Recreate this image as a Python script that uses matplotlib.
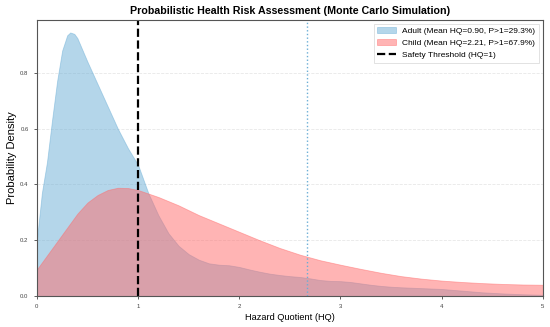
import numpy as np
import matplotlib
matplotlib.use("Agg")
import matplotlib.pyplot as plt

plt.rcParams['font.family'] = ['Liberation Sans', 'DejaVu Sans']

# KDE values
adult_x = [0.0, 0.05, 0.1, 0.15, 0.2, 0.25, 0.3, 0.33, 0.37, 0.4, 0.5, 0.6, 0.7, 0.8, 0.9,
           1.0, 1.1, 1.2, 1.3, 1.4, 1.5, 1.6, 1.7, 1.8, 1.9, 2.0, 2.1, 2.2, 2.3, 2.4, 2.5,
           2.6, 2.7, 2.8, 2.9, 3.0, 3.1, 3.2, 3.3, 3.4, 3.5, 3.6, 3.8, 4.0, 4.2, 4.4, 4.6,
           4.8, 5.0]
adult_y = [0.20, 0.37, 0.48, 0.63, 0.77, 0.88, 0.935, 0.945, 0.94, 0.925, 0.84, 0.76, 0.68,
           0.60, 0.53, 0.47, 0.37, 0.29, 0.225, 0.18, 0.15, 0.13, 0.117, 0.112, 0.11, 0.104,
           0.095, 0.087, 0.080, 0.075, 0.071, 0.068, 0.063, 0.057, 0.054, 0.053, 0.050,
           0.045, 0.040, 0.036, 0.033, 0.031, 0.028, 0.025, 0.019, 0.013, 0.009, 0.006, 0.004]

child_x = [0.0, 0.1, 0.2, 0.3, 0.4, 0.5, 0.6, 0.7, 0.8, 0.9, 1.0, 1.2, 1.4, 1.6, 1.8, 2.0,
           2.2, 2.4, 2.6, 2.8, 3.0, 3.2, 3.4, 3.6, 3.8, 4.0, 4.2, 4.4, 4.6, 4.8, 5.0]
child_y = [0.095, 0.145, 0.195, 0.245, 0.295, 0.335, 0.362, 0.380, 0.388, 0.387, 0.380,
           0.355, 0.325, 0.290, 0.260, 0.230, 0.200, 0.172, 0.148, 0.128, 0.112, 0.097,
           0.083, 0.071, 0.062, 0.055, 0.050, 0.046, 0.043, 0.041, 0.040]

adult_label = 'Adult (Mean HQ=0.90, P>1=29.3%)'
child_label = 'Child (Mean HQ=2.21, P>1=67.9%)'
threshold = 1.0
adult_p95 = 2.67

fig, ax = plt.subplots(figsize=(5.5, 3.27), dpi=100)
fig.subplots_adjust(left=0.067, right=0.987, top=0.939, bottom=0.095)

ax.fill_between(adult_x, adult_y, color='#6BAED6', alpha=0.5, lw=0.6, label=adult_label)
ax.fill_between(child_x, child_y, color='#FF6B6B', alpha=0.5, lw=0.6, label=child_label)
ax.axvline(threshold, color='black', ls='--', lw=1.6, label='Safety Threshold (HQ=1)')
ax.axvline(adult_p95, color='#6BAED6', ls=':', lw=1.0)

ax.set_xlim(0, 5)
ax.set_ylim(0, 0.99)
ax.set_yticks([0.0, 0.2, 0.4, 0.6, 0.8])
ax.grid(axis='y', ls='--', color='#dddddd', lw=0.6, alpha=0.7)
ax.set_axisbelow(True)

ax.set_title('Probabilistic Health Risk Assessment (Monte Carlo Simulation)',
             fontsize=7.7, fontweight='bold', pad=4)
ax.set_xlabel('Hazard Quotient (HQ)', fontsize=6.7, labelpad=3)
ax.set_ylabel('Probability Density', fontsize=8, labelpad=2)
ax.tick_params(labelsize=4.3, length=2.5, width=0.6, colors='#444444')
for s in ax.spines.values():
    s.set_color('#555555')
    s.set_linewidth(0.8)

leg = ax.legend(loc='upper right', fontsize=6.0, frameon=True, framealpha=1,
                edgecolor='#dddddd', fancybox=False, handlelength=2.2)
leg.get_frame().set_linewidth(0.6)

fig.savefig('out.png', dpi=100)
